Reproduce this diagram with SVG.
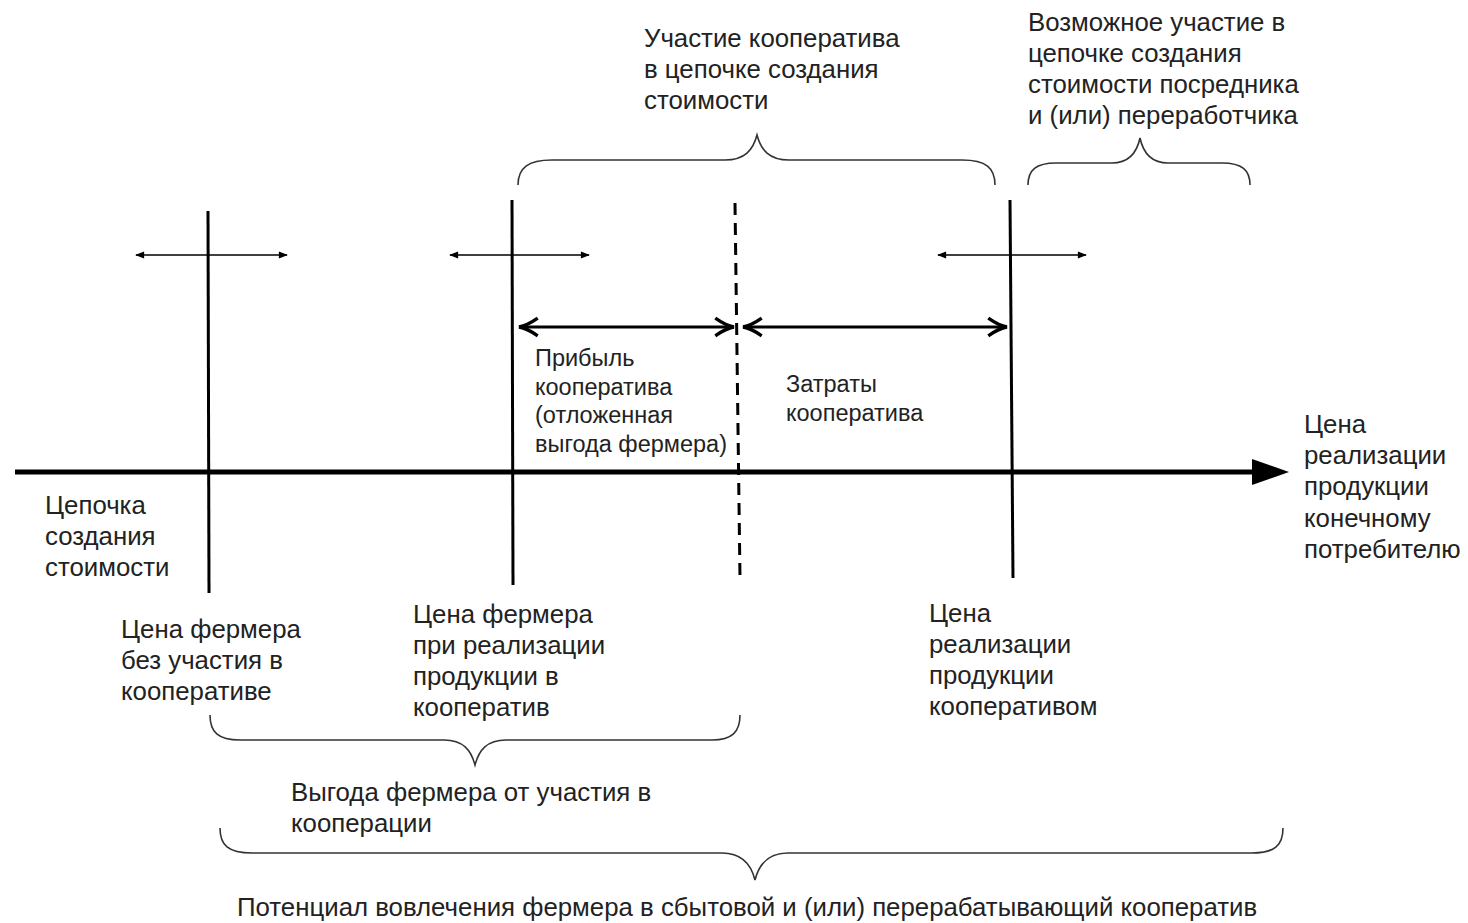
<svg xmlns="http://www.w3.org/2000/svg" width="1468" height="923" viewBox="0 0 1468 923">
<style>
text{font-family:"Liberation Sans",Arial,sans-serif;font-size:25.8px;fill:#222}
.sm{font-size:23.5px}
.ln{stroke:#000;fill:none}
.v{stroke-width:3}
.br{stroke:#333;stroke-width:1.6;fill:none}
</style>
<defs>
<marker id="sa" viewBox="0 0 10 10" refX="9" refY="5" markerWidth="10" markerHeight="9" markerUnits="userSpaceOnUse" orient="auto-start-reverse"><path d="M0,1 L10,5 L0,9 Z" fill="#000"/></marker>
<marker id="ba" viewBox="0 0 20 20" refX="19" refY="10" markerWidth="22" markerHeight="22" markerUnits="userSpaceOnUse" orient="auto-start-reverse"><path d="M2,2 Q12,9 19,10 Q12,11 2,18" fill="none" stroke="#000" stroke-width="3"/></marker>
</defs>
<g id="connectors">
<line class="ln" x1="15" y1="472" x2="1254" y2="472" stroke-width="5"/>
<path d="M1252,459 L1289,472 L1252,485 Z" fill="#000"/>
<line class="ln v" x1="208" y1="211" x2="209" y2="593"/>
<line class="ln v" x1="512" y1="200" x2="513" y2="585"/>
<line class="ln v" x1="735" y1="203" x2="740" y2="578" stroke-dasharray="12 8"/>
<line class="ln v" x1="1010" y1="200" x2="1013" y2="578"/>
<line class="ln" x1="136" y1="255" x2="287" y2="255" stroke-width="1.6" marker-start="url(#sa)" marker-end="url(#sa)"/>
<line class="ln" x1="450" y1="255" x2="589" y2="255" stroke-width="1.6" marker-start="url(#sa)" marker-end="url(#sa)"/>
<line class="ln" x1="938" y1="255" x2="1086" y2="255" stroke-width="1.6" marker-start="url(#sa)" marker-end="url(#sa)"/>
<line class="ln" x1="519" y1="327" x2="734" y2="327" stroke-width="3" marker-start="url(#ba)" marker-end="url(#ba)"/>
<line class="ln" x1="743" y1="327" x2="1007" y2="327" stroke-width="3" marker-start="url(#ba)" marker-end="url(#ba)"/>
<path class="br" d="M518,185 C518,168 528,160 552,160 L725,160 C745,160 753,150 757,135 C761,150 769,160 789,160 L962,160 C986,160 995,168 995,185"/>
<path class="br" d="M1028,185 C1028,170 1036,163 1056,163 L1112,163 C1130,163 1137,152 1140,138 C1143,152 1150,163 1168,163 L1222,163 C1242,163 1250,170 1250,185"/>
<path class="br" d="M210,715 C210,732 218,740 240,740 L444,740 C463,740 471,750 475,765 C479,750 487,740 506,740 L712,740 C732,740 740,732 740,715"/>
<path class="br" d="M220,828 C220,845 228,853 252,853 L722,853 C742,853 751,864 755,880 C759,864 768,853 788,853 L1252,853 C1275,853 1283,845 1283,828"/>
</g>
<g id="top-left-label"><text x="644" y="47">Участие кооператива</text><text x="644" y="78">в цепочке создания</text><text x="644" y="109">стоимости</text></g>
<g id="top-right-label"><text x="1028" y="31">Возможное участие в</text><text x="1028" y="62">цепочке создания</text><text x="1028" y="93">стоимости посредника</text><text x="1028" y="124">и (или) переработчика</text></g>
<g id="profit-label"><text class="sm" x="535" y="366">Прибыль</text><text class="sm" x="535" y="395">кооператива</text><text class="sm" x="535" y="423">(отложенная</text><text class="sm" x="535" y="452">выгода фермера)</text></g>
<g id="costs-label"><text class="sm" x="786" y="392">Затраты</text><text class="sm" x="786" y="421">кооператива</text></g>
<g id="final-price"><text x="1304" y="433">Цена</text><text x="1304" y="464">реализации</text><text x="1304" y="495">продукции</text><text x="1304" y="527">конечному</text><text x="1304" y="558">потребителю</text></g>
<g id="chain-label"><text x="45" y="514">Цепочка</text><text x="45" y="545">создания</text><text x="45" y="576">стоимости</text></g>
<g id="price-no-coop"><text x="121" y="638">Цена фермера</text><text x="121" y="669">без участия в</text><text x="121" y="700">кооперативе</text></g>
<g id="price-coop"><text x="413" y="623">Цена фермера</text><text x="413" y="654">при реализации</text><text x="413" y="685">продукции в</text><text x="413" y="716">кооператив</text></g>
<g id="price-by-coop"><text x="929" y="622">Цена</text><text x="929" y="653">реализации</text><text x="929" y="684">продукции</text><text x="929" y="715">кооперативом</text></g>
<g id="benefit-label"><text x="291" y="801">Выгода фермера от участия в</text><text x="291" y="832">кооперации</text></g>
<g id="potential-label"><text x="237" y="916">Потенциал вовлечения фермера в сбытовой и (или) перерабатывающий кооператив</text></g>
</svg>
